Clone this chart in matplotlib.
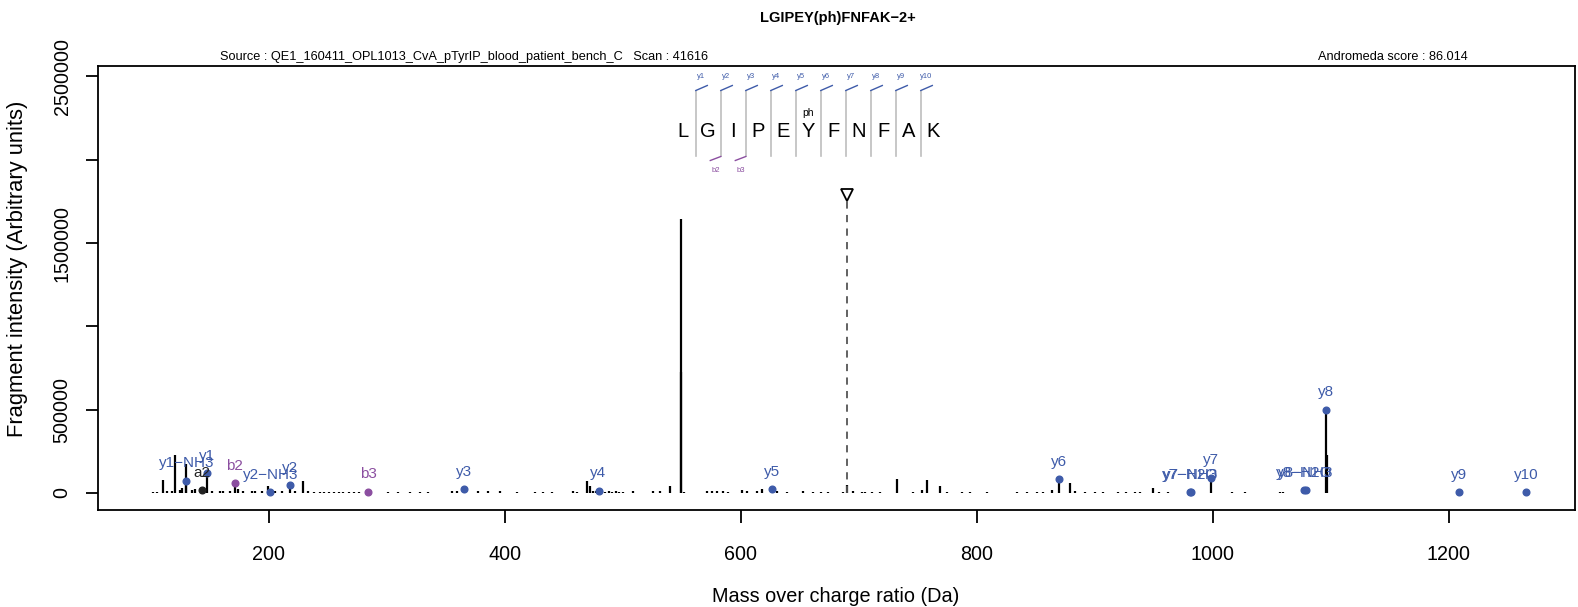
import matplotlib
matplotlib.use("Agg")
import matplotlib.pyplot as plt
from matplotlib.lines import Line2D
import numpy as np

# ---------------- data ----------------
title = "LGIPEY(ph)FNFAK\u22122+"
source_text = "Source : QE1_160411_OPL1013_CvA_pTyrIP_blood_patient_bench_C   Scan : 41616"
score_text = "Andromeda score : 86.014"
xlabel = "Mass over charge ratio (Da)"
ylabel = "Fragment intensity (Arbitrary units)"

# all centroided peaks (m/z, intensity)
peak_mz = [101.9, 104.8, 110.4, 113.3, 117.5, 120.08, 124.6, 126.5, 129.4, 130.09,
           134.5, 137.3, 143.12, 147.11, 151.4, 158.5, 161.3, 167.0, 171.11, 174.0,
           178.2, 185.3, 188.1, 193.8, 199.0, 201.12, 205.0, 210.7, 218.15, 222.0,
           229.0, 233.3, 238.0, 243.0, 247.0, 251.0, 255.0, 259.0, 263.0, 268.0,
           272.0, 276.0, 284.2, 301.0, 309.6, 319.5, 328.0, 335.0, 354.8, 359.0,
           365.22, 377.4, 385.9, 395.8, 409.9, 425.4, 432.5, 439.6, 457.9, 460.7,
           469.7, 472.0, 474.5, 477.0, 479.26, 482.0, 485.0, 488.0, 491.0, 494.0,
           497.0, 500.0, 508.8, 525.8, 531.4, 539.8, 548.9, 549.4, 552.0, 570.9,
           575.2, 579.4, 585.0, 589.0, 600.6, 604.8, 613.3, 617.5, 626.33, 630.2,
           638.6, 652.8, 661.0, 668.0, 674.0, 686.8, 689.9, 695.2, 702.3, 705.1,
           710.8, 717.8, 731.9, 745.9, 753.0, 757.3, 768.6, 774.3, 787.0, 794.0,
           808.2, 833.6, 842.0, 850.6, 856.2, 863.3, 869.36, 878.8, 883.0, 891.5,
           900.0, 907.0, 919.3, 926.3, 933.9, 938.1, 949.4, 954.0, 962.1, 980.39,
           981.38, 998.4, 1015.8, 1027.1, 1056.8, 1059.6, 1077.44, 1078.43, 1095.46, 1096.46,
           1208.54, 1265.56]
peak_int = [8e3, 8e3, 78e3, 12e3, 12e3, 228e3, 20e3, 30e3, 175e3, 74e3,
            20e3, 22e3, 18e3, 110e3, 15e3, 14e3, 14e3, 15e3, 58e3, 25e3,
            12e3, 12e3, 12e3, 12e3, 40e3, 4e3, 10e3, 10e3, 46e3, 12e3,
            70e3, 10e3, 5e3, 5e3, 5e3, 5e3, 5e3, 5e3, 5e3, 5e3,
            5e3, 5e3, 8e3, 5e3, 5e3, 5e3, 5e3, 6e3, 10e3, 10e3,
            24e3, 12e3, 12e3, 15e3, 6e3, 6e3, 6e3, 6e3, 10e3, 5e3,
            75e3, 40e3, 10e3, 10e3, 14e3, 10e3, 8e3, 10e3, 8e3, 10e3,
            8e3, 8e3, 10e3, 10e3, 12e3, 42e3, 1642e3, 728e3, 6e3, 10e3,
            12e3, 12e3, 10e3, 8e3, 18e3, 15e3, 14e3, 24e3, 22e3, 10e3,
            5e3, 10e3, 5e3, 5e3, 5e3, 8e3, 48e3, 12e3, 8e3, 6e3,
            6e3, 6e3, 82e3, 5e3, 20e3, 78e3, 40e3, 6e3, 5e3, 5e3,
            8e3, 5e3, 6e3, 6e3, 8e3, 20e3, 82e3, 58e3, 10e3, 5e3,
            5e3, 5e3, 5e3, 5e3, 6e3, 5e3, 30e3, 5e3, 6e3, 4e3,
            4e3, 92e3, 4e3, 4e3, 4e3, 4e3, 18e3, 18e3, 500e3, 230e3,
            4e3, 4e3]

# annotated fragment ions
ion_names = ["y1\u2212NH3", "a2", "y1", "b2", "y2\u2212NH3", "y2", "b3", "y3", "y4", "y5",
             "y6", "y7\u2212H2O", "y7\u2212NH3", "y7", "y8\u2212H2O", "y8\u2212NH3", "y8", "y9", "y10"]
ion_mz = [130.09, 143.12, 147.11, 171.11, 201.12, 218.15, 284.2, 365.22, 479.26, 626.33,
          869.36, 980.39, 981.38, 998.4, 1077.44, 1078.43, 1095.46, 1208.54, 1265.56]
ion_int = [74e3, 18e3, 120e3, 58e3, 4e3, 46e3, 8e3, 24e3, 14e3, 22e3,
           82e3, 4e3, 4e3, 92e3, 18e3, 18e3, 500e3, 4e3, 4e3]
ion_type = ["y", "a", "y", "b", "y", "y", "b", "y", "y", "y",
            "y", "y", "y", "y", "y", "y", "y", "y", "y"]

precursor_mz = 689.83
precursor_mark = 1.79e6

sequence = ["L", "G", "I", "P", "E", "Y", "F", "N", "F", "A", "K"]
modified_residue = 5          # Y(ph)
y_breaks = [1, 2, 3, 4, 5, 6, 7, 8, 9, 10]   # labelled breakages (top)
b_breaks = [2, 3]                               # labelled breakages (bottom)

y_ticks = [0, 500000, 1000000, 1500000, 2000000, 2500000]
y_ticklabels = ["0", "500000", "", "1500000", "", "2500000"]
x_ticks = [200, 400, 600, 800, 1000, 1200]

# ---------------- style ----------------
W, H = 1578, 607
BLUE = "#3E5BA9"
PURPLE = "#8B4EA0"
colors = {"y": BLUE, "b": PURPLE, "a": "#222222"}
plt.rcParams["font.family"] = ["Liberation Sans", "DejaVu Sans"]

fig = plt.figure(figsize=(W / 100, H / 100), dpi=100)
L, R, T, B = 98, 1575, 66, 510
ax = fig.add_axes([L / W, 1 - B / H, (R - L) / W, (B - T) / H])

ax.vlines(peak_mz, 0, peak_int, color="black", lw=1.6)
for n, m, i, t in zip(ion_names, ion_mz, ion_int, ion_type):
    c = colors[t]
    ax.plot([m], [i], "o", color=c, ms=4.8, mec=c, zorder=3)
    ax.annotate(n, (m, i), xytext=(0, 12.5), textcoords="offset points",
                ha="center", va="center", color=c, fontsize=11, zorder=4)

ax.vlines([precursor_mz], 0, precursor_mark, color="#555555", lw=1.3,
          linestyles=(0, (4, 3.5)))
ax.plot([precursor_mz], [precursor_mark], marker="v", ms=9, mfc="white",
        mec="black", mew=1.3, zorder=4)

ax.set_xlim(55.1, 1306.8)
ax.set_ylim(-102000, 2562000)
ax.set_xticks(x_ticks)
ax.set_xticklabels([str(v) for v in x_ticks])
ax.set_yticks(y_ticks)
ax.set_yticklabels(y_ticklabels)
for sp in ax.spines.values():
    sp.set_linewidth(1.3)
ax.tick_params(axis="both", direction="out", length=9, width=1.3, labelsize=14.2)
ax.tick_params(axis="x", pad=16)
ax.tick_params(axis="y", pad=10)
plt.setp(ax.get_yticklabels(), rotation=90, va="center")

fig.text(836 / W, 1 - 596 / H, xlabel, ha="center", va="center", fontsize=14.3)
fig.text(18 / W, 1 - 269 / H, ylabel, ha="center", va="center", fontsize=15.8, rotation=90)
fig.text(838 / W, 1 - 18 / H, title, ha="center", va="center", fontsize=10.5, fontweight="bold")
fig.text(220 / W, 1 - 57 / H, source_text, ha="left", va="center", fontsize=9.2)
fig.text(1468 / W, 1 - 57 / H, score_text, ha="right", va="center", fontsize=9.2)

# ---------------- sequence diagram (pixel layout) ----------------
def fx(px):
    return px / W

def fy(py):
    return 1 - py / H

x0, step = 683.3, 25.0
y_letter = 131.7
for k, aa in enumerate(sequence):
    fig.text(fx(x0 + k * step), fy(y_letter), aa, ha="center", va="center", fontsize=14.5)
fig.text(fx(x0 + modified_residue * step), fy(112.5), "ph", ha="center", va="center", fontsize=7.5)
for k in range(1, len(sequence)):
    xs = x0 + (k - 0.5) * step
    fig.add_artist(Line2D([fx(xs), fx(xs)], [fy(90.5), fy(156.5)], color="#BDBDBD", lw=1.2))
for n, k in enumerate(y_breaks):
    xs = x0 + (k - 0.5) * step
    fig.add_artist(Line2D([fx(xs), fx(xs + 11.5)], [fy(90.5), fy(85.5)], color=BLUE, lw=1.0))
    fig.text(fx(xs + 5), fy(76.7), "y%d" % (n + 1), ha="center", va="center", fontsize=5.5, color=BLUE)
for k in b_breaks:
    xs = x0 + (k - 0.5) * step
    fig.add_artist(Line2D([fx(xs), fx(xs - 10.5)], [fy(156.5), fy(160.5)], color=PURPLE, lw=1.0))
    fig.text(fx(xs - 5), fy(170), "b%d" % k, ha="center", va="center", fontsize=5.5, color=PURPLE)

fig.savefig("out.png", dpi=100)
